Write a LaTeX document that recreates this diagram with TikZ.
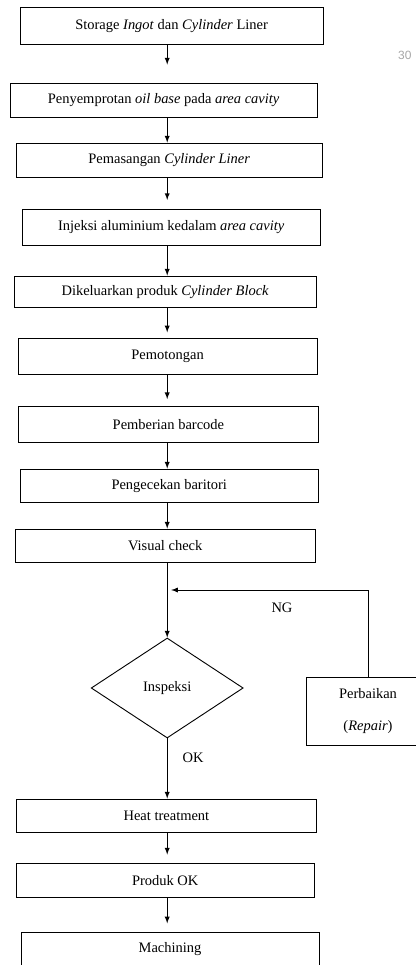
\documentclass[tikz,border=0pt]{standalone}
\usepackage{fontspec}
\setmainfont{Liberation Serif}
\setsansfont{Liberation Sans}
\usepackage{tikz}
\usetikzlibrary{arrows}
\usetikzlibrary{shapes.geometric}
\tikzset{>=latex}
\tikzstyle{stage} = [rectangle, draw=black, line width=0.65pt, inner sep=0pt, minimum height=0.83cm]
\tikzstyle{flow} = [-latex, draw=black, line width=0.65pt]

\begin{document}
\begin{tikzpicture}[font=\fontsize{10.3}{12.4}\selectfont]
\useasboundingbox (0,0) rectangle (10.4,-24.125);
\coordinate (spine) at (4.18, 0);
\node [stage, minimum width=7.58cm, minimum height=0.93cm] (storage) at (4.29, -0.65) {Storage \textit{Ingot} dan \textit{Cylinder} Liner};
\node [stage, minimum width=7.68cm, minimum height=0.85cm] (spray) at (4.09, -2.50) {Penyemprotan \textit{oil base} pada \textit{area cavity}};
\node [stage, minimum width=7.65cm, minimum height=0.85cm] (liner) at (4.23, -4.00) {Pemasangan \textit{Cylinder Liner}};
\node [stage, minimum width=7.45cm, minimum height=0.90cm] (inject) at (4.28, -5.68) {Injeksi aluminium kedalam \textit{area cavity}};
\node [stage, minimum width=7.55cm, minimum height=0.78cm] (eject) at (4.13, -7.29) {Dikeluarkan produk \textit{Cylinder Block}};
\node [stage, minimum width=7.48cm, minimum height=0.88cm] (cut) at (4.19, -8.91) {Pemotongan};
\node [stage, minimum width=7.48cm, minimum height=0.88cm] (barcode) at (4.21, -10.61) {Pemberian barcode};
\node [stage, minimum width=7.45cm] (baritori) at (4.23, -12.14) {Pengecekan baritori};
\node [stage, minimum width=7.50cm] (visual) at (4.13, -13.64) {Visual check};
\node [diamond, draw=black, line width=0.65pt, inner sep=0pt, minimum width=3.80cm, minimum height=2.50cm] (inspect) at (4.18, -17.20) {Inspeksi};
\node [stage, minimum width=3.10cm, minimum height=1.70cm, align=center] (repair) at (9.20, -17.78) {Perbaikan\\[10pt](\textit{Repair})};
\node [stage, minimum width=7.48cm] (heat) at (4.16, -20.39) {Heat treatment};
\node [stage, minimum width=7.45cm] (prodok) at (4.13, -22.01) {Produk OK};
\node [stage, minimum width=7.45cm] (machining) at (4.25, -23.73) {Machining};
\coordinate (ngend) at (4.28, -14.75);
\draw [flow, shorten >=0.45cm] (storage.south -| spine) -- (spray.north -| spine);
\draw [flow] (spray.south -| spine) -- (liner.north -| spine);
\draw [flow, shorten >=0.22cm] (liner.south -| spine) -- (inject.north -| spine);
\draw [flow] (inject.south -| spine) -- (eject.north -| spine);
\draw [flow, shorten >=0.15cm] (eject.south -| spine) -- (cut.north -| spine);
\draw [flow, shorten >=0.18cm] (cut.south -| spine) -- (barcode.north -| spine);
\draw [flow] (barcode.south -| spine) -- (baritori.north -| spine);
\draw [flow] (baritori.south -| spine) -- (visual.north -| spine);
\draw [flow] (visual.south -| spine) -- (inspect.north);
\draw [flow] (repair.north) |- (ngend);
\draw [flow] (inspect.south) -- (heat.north -| inspect.south);
\draw [flow, shorten >=0.22cm] (heat.south -| spine) -- (prodok.north -| spine);
\draw [flow, shorten >=0.22cm] (prodok.south -| spine) -- (machining.north -| spine);
\node [draw=none] (ng) at (7.05, -15.20) {NG};
\node [draw=none] (ok) at (4.83, -18.95) {OK};
\node [draw=none, text=gray!70, font=\sffamily\fontsize{8.5}{10}\selectfont] (page) at (10.12, -1.38) {30};
\end{tikzpicture}
\end{document}
